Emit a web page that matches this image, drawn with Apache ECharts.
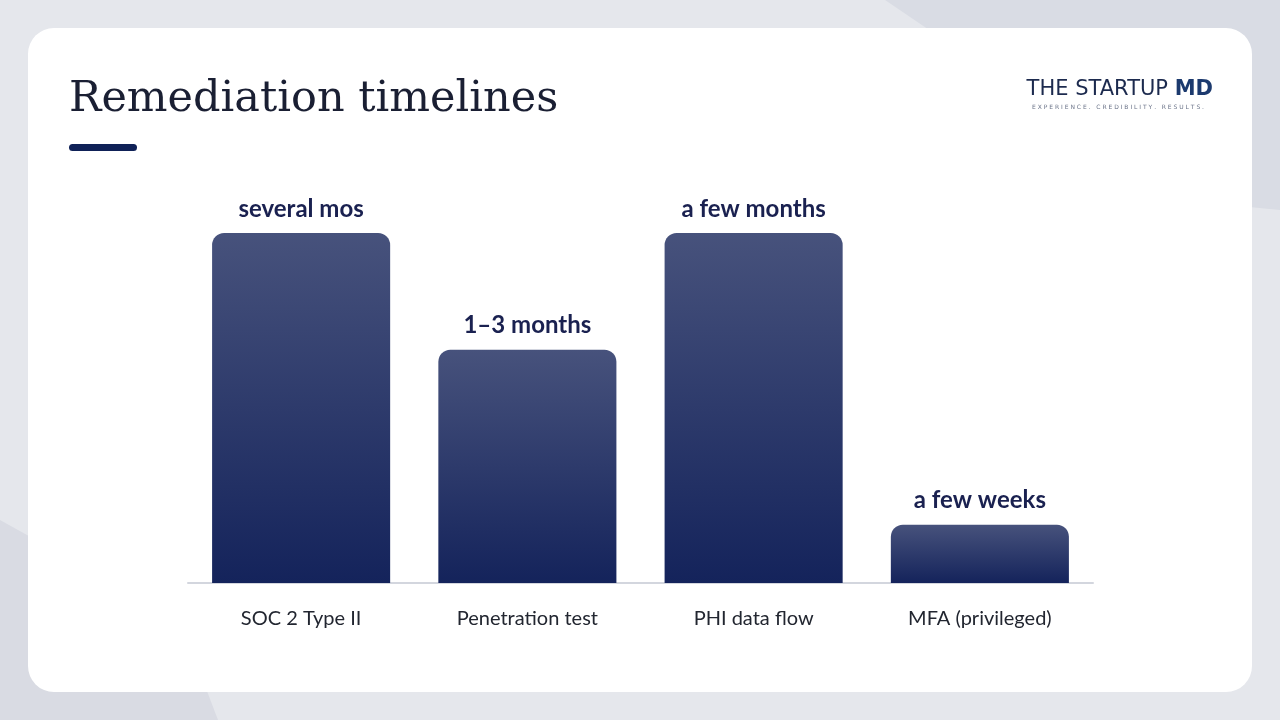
<!DOCTYPE html>
<html>
<head>
<meta charset="utf-8">
<script src="https://cdn.jsdelivr.net/npm/echarts@6/dist/echarts.min.js"></script>
<style>
  html, body { margin: 0; padding: 0; width: 1280px; height: 720px; overflow: hidden; }
  body { background: #e5e7ec; position: relative; }
  .shape-bl { position: absolute; left: 0; top: 0; width: 1280px; height: 720px;
    background: #d9dbe3; clip-path: polygon(0 520px, 180px 620px, 218px 720px, 0 720px); }
  .shape-tr { position: absolute; left: 0; top: 0; width: 1280px; height: 720px;
    background: #d9dce4; clip-path: polygon(885px 0, 1280px 0, 1280px 210px, 1180px 200px); }
  .card { position: absolute; left: 28px; top: 28px; width: 1224px; height: 664px;
    background: #ffffff; border-radius: 26px; }
  #chart { position: absolute; left: 0; top: 0; width: 1280px; height: 720px; }
</style>
</head>
<body>
<div class="shape-bl"></div>
<div class="shape-tr"></div>
<div class="card"></div>
<div id="chart"></div>
<script>
// remediation effort, in rough months
const categories = ["SOC 2 Type II", "Penetration test", "PHI data flow", "MFA (privileged)"];
const durations = [6, 4, 6, 1];
const durationLabels = ["several mos", "1\u20133 months", "a few months", "a few weeks"];

const chart = echarts.init(document.getElementById("chart"));

const option = {
  animation: false,
  grid: {
    left: 188,
    width: 905,
    top: 233,
    bottom: 137
  },
  xAxis: {
    type: "category",
    data: categories,
    axisTick: { show: false },
    axisLine: { lineStyle: { color: "#d3d6de", width: 2 } },
    axisLabel: {
      margin: 26,
      fontFamily: "Lato",
      fontSize: 20,
      color: "#222630"
    }
  },
  yAxis: {
    type: "value",
    min: 0,
    max: 6,
    show: false,
    splitLine: { show: false }
  },
  graphic: [
    {
      type: "text",
      x: 69,
      y: 100,
      style: {
        text: "Remediation timelines",
        fontFamily: "DejaVu Serif",
        fontSize: 43,
        verticalAlign: "middle",
        fill: "#1a1f33"
      }
    },
    {
      type: "rect",
      left: 69,
      top: 144,
      shape: { width: 68, height: 7, r: 3.5 },
      style: { fill: "#0f2157" }
    },
    {
      type: "text",
      x: 1213,
      y: 90,
      style: {
        text: "{a|THE STARTUP }{b|MD}",
        align: "right",
        verticalAlign: "middle",
        rich: {
          a: { fontFamily: "DejaVu Sans", fontSize: 21, fill: "#1c2a4e" },
          b: { fontFamily: "DejaVu Sans", fontWeight: "bold", fontSize: 21, fill: "#1c3a6e" }
        }
      }
    },
    {
      type: "text",
      x: 1204,
      y: 107,
      style: {
        text: "E X P E R I E N C E .   C R E D I B I L I T Y .   R E S U L T S .",
        align: "right",
        verticalAlign: "middle",
        fontFamily: "DejaVu Sans",
        fontSize: 6,
        fill: "#6a7388"
      }
    }
  ],
  series: [
    {
      type: "bar",
      data: durations,
      barWidth: "78.7%",
      itemStyle: {
        borderRadius: [12, 12, 0, 0],
        color: new echarts.graphic.LinearGradient(0, 0, 0, 1, [
          { offset: 0, color: "#47527c" },
          { offset: 1, color: "#14235b" }
        ])
      },
      label: {
        show: true,
        position: "top",
        distance: 12,
        formatter: p => durationLabels[p.dataIndex],
        fontFamily: "Lato",
        fontWeight: "bold",
        fontSize: 24,
        color: "#1a2150"
      }
    }
  ]
};

chart.setOption(option);
window.addEventListener("resize", () => chart.resize());
</script>
</body>
</html>
